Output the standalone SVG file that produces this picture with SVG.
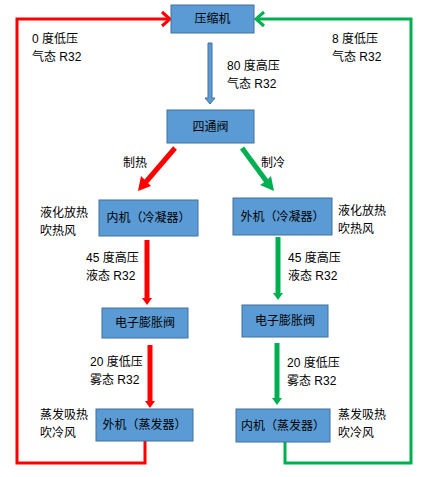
<svg xmlns="http://www.w3.org/2000/svg" width="427" height="477" viewBox="0 0 427 477">
<style>
text{font-family:"Liberation Sans","Noto Sans CJK SC",sans-serif;font-size:12px;fill:#000}
.lbl{font-size:12px;text-anchor:middle;dominant-baseline:central}
.box{fill:#5B9BD5;stroke:#41719C;stroke-width:1}
.r{stroke:#FF0000;fill:none}
.g{stroke:#00B050;fill:none}
</style>
<rect width="427" height="477" fill="#fff"/>
<g id="connectors">
  <path d="M208 43 H212 V98 H215 L210 104 L205 98 H208 Z" fill="#5B9BD5" stroke="#41719C" stroke-width="1"/>
  <polyline class="r" stroke-width="3" points="145,441 145,463 17,463 17,19 169,19"/>
  <polyline class="r" stroke-width="3" points="162,12 170,19 162,26"/>
  <polyline class="g" stroke-width="3" points="285,442 285,463 411,463 411,19 257,19"/>
  <polyline class="g" stroke-width="3" points="264,12 256,19 264,26"/>
  <line class="r" stroke-width="5" x1="175" y1="148" x2="145" y2="183"/>
  <polygon fill="#FF0000" points="138,191 141,176 146,181 151,186"/>
  <line class="g" stroke-width="5" x1="242" y1="148" x2="267" y2="182"/>
  <polygon fill="#00B050" points="274,191 260,185 266,181 271,176"/>
  <line class="r" stroke-width="5" x1="147" y1="240" x2="147" y2="299"/>
  <polygon fill="#FF0000" points="142,298 152,298 147,305"/>
  <line class="g" stroke-width="5" x1="278" y1="237" x2="278" y2="294"/>
  <polygon fill="#00B050" points="273,293 283,293 278,300"/>
  <line class="r" stroke-width="5" x1="150" y1="345" x2="150" y2="402"/>
  <polygon fill="#FF0000" points="145,401 155,401 150,408"/>
  <line class="g" stroke-width="5" x1="277" y1="343" x2="277" y2="399"/>
  <polygon fill="#00B050" points="272,398 282,398 277,405"/>
</g>
<g id="compressor"><rect class="box" x="171" y="5" width="83" height="28"/><text class="lbl" x="212.5" y="19">压缩机</text></g>
<g id="fourway"><rect class="box" x="167" y="110" width="87" height="33"/><text class="lbl" x="210.5" y="126.5">四通阀</text></g>
<g id="indoor-cond"><rect class="box" x="99" y="200" width="99" height="36"/><text class="lbl" x="148.5" y="218">内机（冷凝器）</text></g>
<g id="outdoor-cond"><rect class="box" x="233" y="198" width="99" height="37"/><text class="lbl" x="282.5" y="216.5">外机（冷凝器）</text></g>
<g id="eev-left"><rect class="box" x="102" y="308" width="86" height="30"/><text class="lbl" x="145" y="323">电子膨胀阀</text></g>
<g id="eev-right"><rect class="box" x="242" y="305" width="86" height="32"/><text class="lbl" x="285" y="321">电子膨胀阀</text></g>
<g id="outdoor-evap"><rect class="box" x="96" y="409" width="97" height="32"/><text class="lbl" x="144.5" y="425">外机（蒸发器）</text></g>
<g id="indoor-evap"><rect class="box" x="236" y="409" width="94" height="33"/><text class="lbl" x="283" y="425.5">内机（蒸发器）</text></g>
<g id="labels">
  <text x="32" y="43">0 度低压</text><text x="32" y="61">气态 R32</text>
  <text x="227" y="70">80 度高压</text><text x="227" y="88">气态 R32</text>
  <text x="332" y="43">8 度低压</text><text x="332" y="61">气态 R32</text>
  <text x="123" y="167">制热</text>
  <text x="261" y="167">制冷</text>
  <text x="40" y="217">液化放热</text><text x="40" y="235">吹热风</text>
  <text x="338" y="215">液化放热</text><text x="338" y="233">吹热风</text>
  <text x="86" y="262">45 度高压</text><text x="86" y="280">液态 R32</text>
  <text x="288" y="262">45 度高压</text><text x="288" y="280">液态 R32</text>
  <text x="90" y="366">20 度低压</text><text x="90" y="384">雾态 R32</text>
  <text x="287" y="367">20 度低压</text><text x="287" y="385">雾态 R32</text>
  <text x="40" y="419">蒸发吸热</text><text x="40" y="437">吹冷风</text>
  <text x="338" y="419">蒸发吸热</text><text x="338" y="437">吹冷风</text>
</g>
</svg>
